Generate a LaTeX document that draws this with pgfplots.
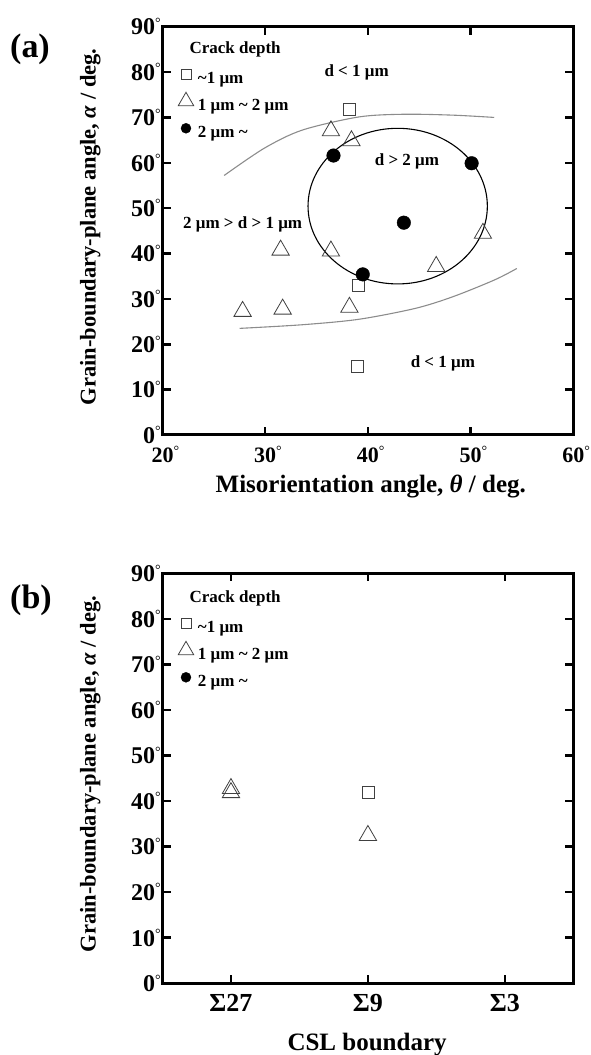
\documentclass[border=0pt]{standalone}
\usepackage{fontspec}
\setmainfont{Liberation Serif}
\usepackage{pgfplots}
\pgfplotsset{compat=1.18}
\newcommand\dg{\raisebox{7.5pt}{\fontsize{14}{14}\selectfont\mdseries °}}
\newcommand\fs[1]{\bfseries\fontsize{#1}{#1}\selectfont}
\pgfplotsset{
  sq/.style={mark=square, mark size=6pt, mark options={line width=0.8pt, draw=black!75, fill=none}},
  tri/.style={mark=triangle, mark size=10pt, mark options={line width=0.8pt, draw=black!75, fill=none}},
  dot/.style={mark=*, mark size=6.8pt, mark options={fill=black, draw=black}},
  myaxis/.style={
    scale only axis,
    axis line style={line width=3pt},
    every tick/.style={black, line width=2.5pt},
    major tick length=8pt,
    tick align=inside,
    ymin=0, ymax=90,
    ytick={0,10,20,30,40,50,60,70,80,90},
    yticklabels={0\dg,10\dg,20\dg,30\dg,40\dg,50\dg,60\dg,70\dg,80\dg,90\dg},
    yticklabel style={font=\fs{24}, anchor=east, inner sep=0pt, xshift=-1.5pt},
    xticklabel style={anchor=base, inner sep=0pt, yshift=-28pt},
    every axis y label/.style={at={(axis description cs:-0.163,0.51)}, rotate=90, anchor=base, font=\fs{22.5}},
    legend image code/.code={\path[draw=none,fill=none] (-8pt,-4pt) rectangle (8pt,14pt); \draw[##1] plot coordinates {(0pt,5pt)};},
    legend style={draw=none, fill=none, inner sep=0pt, outer sep=0pt, font=\fs{17},
      nodes={inner sep=0pt, text height=12pt, text depth=4pt}, column sep=4pt, row sep=5pt},
    legend cell align=left,
  }
}
\begin{document}
\begin{tikzpicture}[x=1pt,y=1pt]
\useasboundingbox (0,0) rectangle (591,1055);
\node[font=\fs{34}] at (30,1006) {(a)};
\node[font=\fs{34}] at (31,455) {(b)};
% ---------------- panel (a)
\begin{axis}[myaxis, at={(162.5pt,620pt)}, anchor=south west,
  width=410.8pt, height=408.3pt,
  xmin=20, xmax=60, xtick={20,30,40,50,60},
  xticklabels={20\rlap{\dg},30\rlap{\dg},40\rlap{\dg},50\rlap{\dg},60\rlap{\dg}},
  xticklabel style={font=\fs{22}},
  xlabel={Misorientation angle, \textit{θ} / deg.},
  every axis x label/.style={at={(axis description cs:0.507,-0.142)}, anchor=base, font=\fs{25}},
  ylabel={Grain-boundary-plane angle, \textit{α} / deg.},
  legend style={at={(axis description cs:0.0377,0.9055)}, anchor=north west},
]
\addlegendimage{sq, mark size=5pt}
\addlegendentry{\textasciitilde{}1 μm}
\addlegendimage{tri, mark size=9pt}
\addlegendentry{1 μm \textasciitilde{} 2 μm}
\addlegendimage{dot, mark size=5pt}
\addlegendentry{2 μm \textasciitilde}
\addplot[forget plot, smooth, line width=1.1pt, color={rgb,255:red,140;green,140;blue,140}] coordinates {
 (26.0,57.2) (29.9,63.2) (33.6,67.2) (39.1,70.1) (43.5,70.7) (48.3,70.5) (52.3,70.0)};
\addplot[forget plot, smooth, line width=1.1pt, color={rgb,255:red,140;green,140;blue,140}] coordinates {
 (27.5,23.5) (33.6,24.3) (39.1,25.5) (44.6,27.9) (48.3,30.5) (52.35,34.2) (54.5,36.7)};
\draw[line width=1.1pt] (axis cs:42.9,50.45) ellipse [x radius=8.73, y radius=17.15];
\addplot[forget plot, only marks, sq] coordinates {(38.2,71.8) (39.1,33.0) (39.0,15.2)};
\addplot[forget plot, only marks, tri] coordinates {
 (36.4,67.05) (38.4,64.85) (31.5,40.75) (36.4,40.55) (46.65,37.15) (51.2,44.45)
 (27.8,27.25) (31.7,27.75) (38.2,28.15)};
\addplot[forget plot, only marks, dot] coordinates {(36.65,61.6) (50.1,59.9) (43.5,46.8) (39.5,35.4)};
\node[font=\fs{17}, anchor=base west] at (axis description cs:0.0572,0.9348) {Crack depth};
\node[font=\fs{17}] at (axis cs:38.9,80.0) {d < 1 μm};
\node[font=\fs{17}] at (axis cs:43.8,60.4) {d > 2 μm};
\node[font=\fs{17}] at (axis cs:27.8,46.4) {2 μm > d > 1 μm};
\node[font=\fs{17}] at (axis cs:47.3,15.8) {d < 1 μm};
\end{axis}
% ---------------- panel (b)
\begin{axis}[myaxis, at={(162.5pt,71.7pt)}, anchor=south west,
  width=410.8pt, height=410pt,
  xmin=-0.5, xmax=2.5, xtick={0,1,2},
  xticklabels={Σ27,Σ9,Σ3},
  xticklabel style={font=\fs{26}},
  xlabel={CSL boundary},
  every axis x label/.style={at={(axis description cs:0.498,-0.1627)}, anchor=base, font=\fs{25}},
  ylabel={Grain-boundary-plane angle, \textit{α} / deg.},
  legend style={at={(axis description cs:0.0377,0.900)}, anchor=north west},
]
\addlegendimage{sq, mark size=5pt}
\addlegendentry{\textasciitilde{}1 μm}
\addlegendimage{tri, mark size=9pt}
\addlegendentry{1 μm \textasciitilde{} 2 μm}
\addlegendimage{dot, mark size=5pt}
\addlegendentry{2 μm \textasciitilde}
\addplot[forget plot, only marks, sq] coordinates {(1,41.8)};
\addplot[forget plot, only marks, tri] coordinates {(0,42.75) (0,41.85) (1,32.45)};
\node[font=\fs{17}, anchor=base west] at (axis description cs:0.0572,0.9288) {Crack depth};
\end{axis}
\end{tikzpicture}
\end{document}
